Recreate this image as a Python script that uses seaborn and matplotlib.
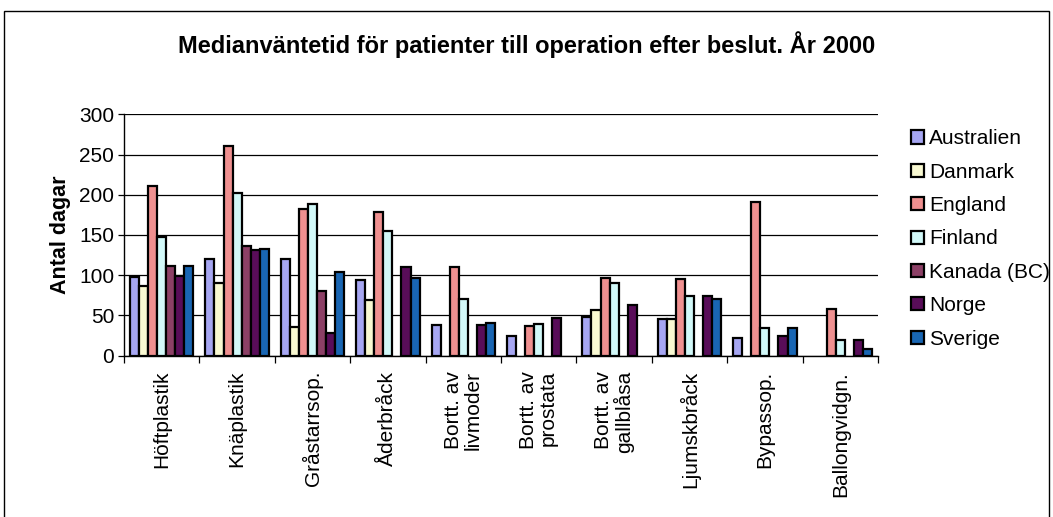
import numpy as np
import pandas as pd
import matplotlib
matplotlib.use("Agg")
import matplotlib.pyplot as plt
import seaborn as sns
from matplotlib.patches import Rectangle

sns.set_theme(style="white")
plt.rcParams["font.family"] = ["Liberation Sans", "DejaVu Sans"]
plt.rcParams["text.color"] = "black"
plt.rcParams["axes.labelcolor"] = "black"
plt.rcParams["xtick.color"] = "black"
plt.rcParams["ytick.color"] = "black"

# Operations (x categories)
operations = ["Höftplastik", "Knäplastik", "Gråstarrsop.", "Åderbråck",
              "Bortt. av\nlivmoder", "Bortt. av\nprostata", "Bortt. av\ngallblåsa",
              "Ljumskbråck", "Bypassop.", "Ballongvidgn."]

countries = ["Australien", "Danmark", "England", "Finland", "Kanada (BC)", "Norge", "Sverige"]

# median waiting days, one list per country (nan = no data)
nan = np.nan
australien = [98, 120, 120, 94, 38, 24, 48, 46, 22, nan]
danmark = [87, 90, 36, 69, nan, nan, 57, 46, nan, nan]
england = [211, 261, 182, 178, 110, 37, 97, 95, 191, 58]
finland = [148, 202, 189, 155, 70, 39, 90, 74, 34, 20]
kanada = [112, 136, 80, nan, nan, nan, nan, nan, nan, nan]
norge = [99, 131, 28, 110, 38, 47, 63, 74, 25, 19]
sverige = [112, 133, 104, 97, 41, nan, nan, 70, 35, 8]

colors = ["#9999FF", "#FFFFCC", "#FF8080", "#CCFFFF", "#993366", "#660066", "#0066CC"]

series = [australien, danmark, england, finland, kanada, norge, sverige]
rows = []
for land, vals in zip(countries, series):
    for op, v in zip(operations, vals):
        rows.append({"Operation": op, "Land": land, "Dagar": v})
df = pd.DataFrame(rows)

fig = plt.figure(figsize=(10.53, 5.17), dpi=100)
ax = fig.add_axes([124 / 1053, 1 - 355.7 / 517, (878 - 124) / 1053, (355.7 - 114.3) / 517])

sns.barplot(data=df, x="Operation", y="Dagar", hue="Land", order=operations,
            hue_order=countries, palette=colors, width=0.84, edgecolor="black",
            linewidth=1.6, errorbar=None, ax=ax, zorder=3)

ax.set_ylim(0, 300)
ax.set_xlim(-0.5, len(operations) - 0.5)
ax.set_yticks(range(0, 301, 50))
ax.yaxis.grid(True, color="black", linewidth=0.9)
ax.set_axisbelow(True)
for s in ["top", "right"]:
    ax.spines[s].set_visible(False)
for s in ["left", "bottom"]:
    ax.spines[s].set_color("black")
    ax.spines[s].set_linewidth(1.0)

ax.tick_params(axis="y", which="major", left=True, length=4, width=0.9, color="black",
               labelsize=15, pad=3)
ax.tick_params(axis="x", which="major", bottom=False, labelsize=15, pad=5)
ax.set_xticks(np.arange(-0.5, len(operations), 1), minor=True)
ax.tick_params(axis="x", which="minor", bottom=True, length=5, width=0.9, color="black")
ax.set_xticklabels(operations, rotation=90, ha="center", va="top", multialignment="right",
                   linespacing=1.05)

ax.set_xlabel("")
ax.set_ylabel("Antal dagar", fontsize=15.5, fontweight="bold", labelpad=6)

fig.text(0.5, 1 - 45 / 517, "Medianväntetid för patienter till operation efter beslut. År 2000",
         ha="center", va="center", fontsize=17, fontweight="bold")

leg = ax.legend(loc="upper left", bbox_to_anchor=(903 / 1053, 1 - 121 / 517),
                bbox_transform=fig.transFigure, frameon=False, fontsize=15,
                handlelength=0.6, handleheight=0.6, handletextpad=0.25, labelspacing=0.69,
                borderaxespad=0)
for h in leg.legend_handles:
    h.set_edgecolor("black")
    h.set_linewidth(1.6)

fig.patches.append(Rectangle((4 / 1053, -0.02), 1045 / 1053, 1.02 - 11 / 517,
                             transform=fig.transFigure, fill=False,
                             edgecolor="black", linewidth=1.0))

fig.savefig("out.png", dpi=100)
